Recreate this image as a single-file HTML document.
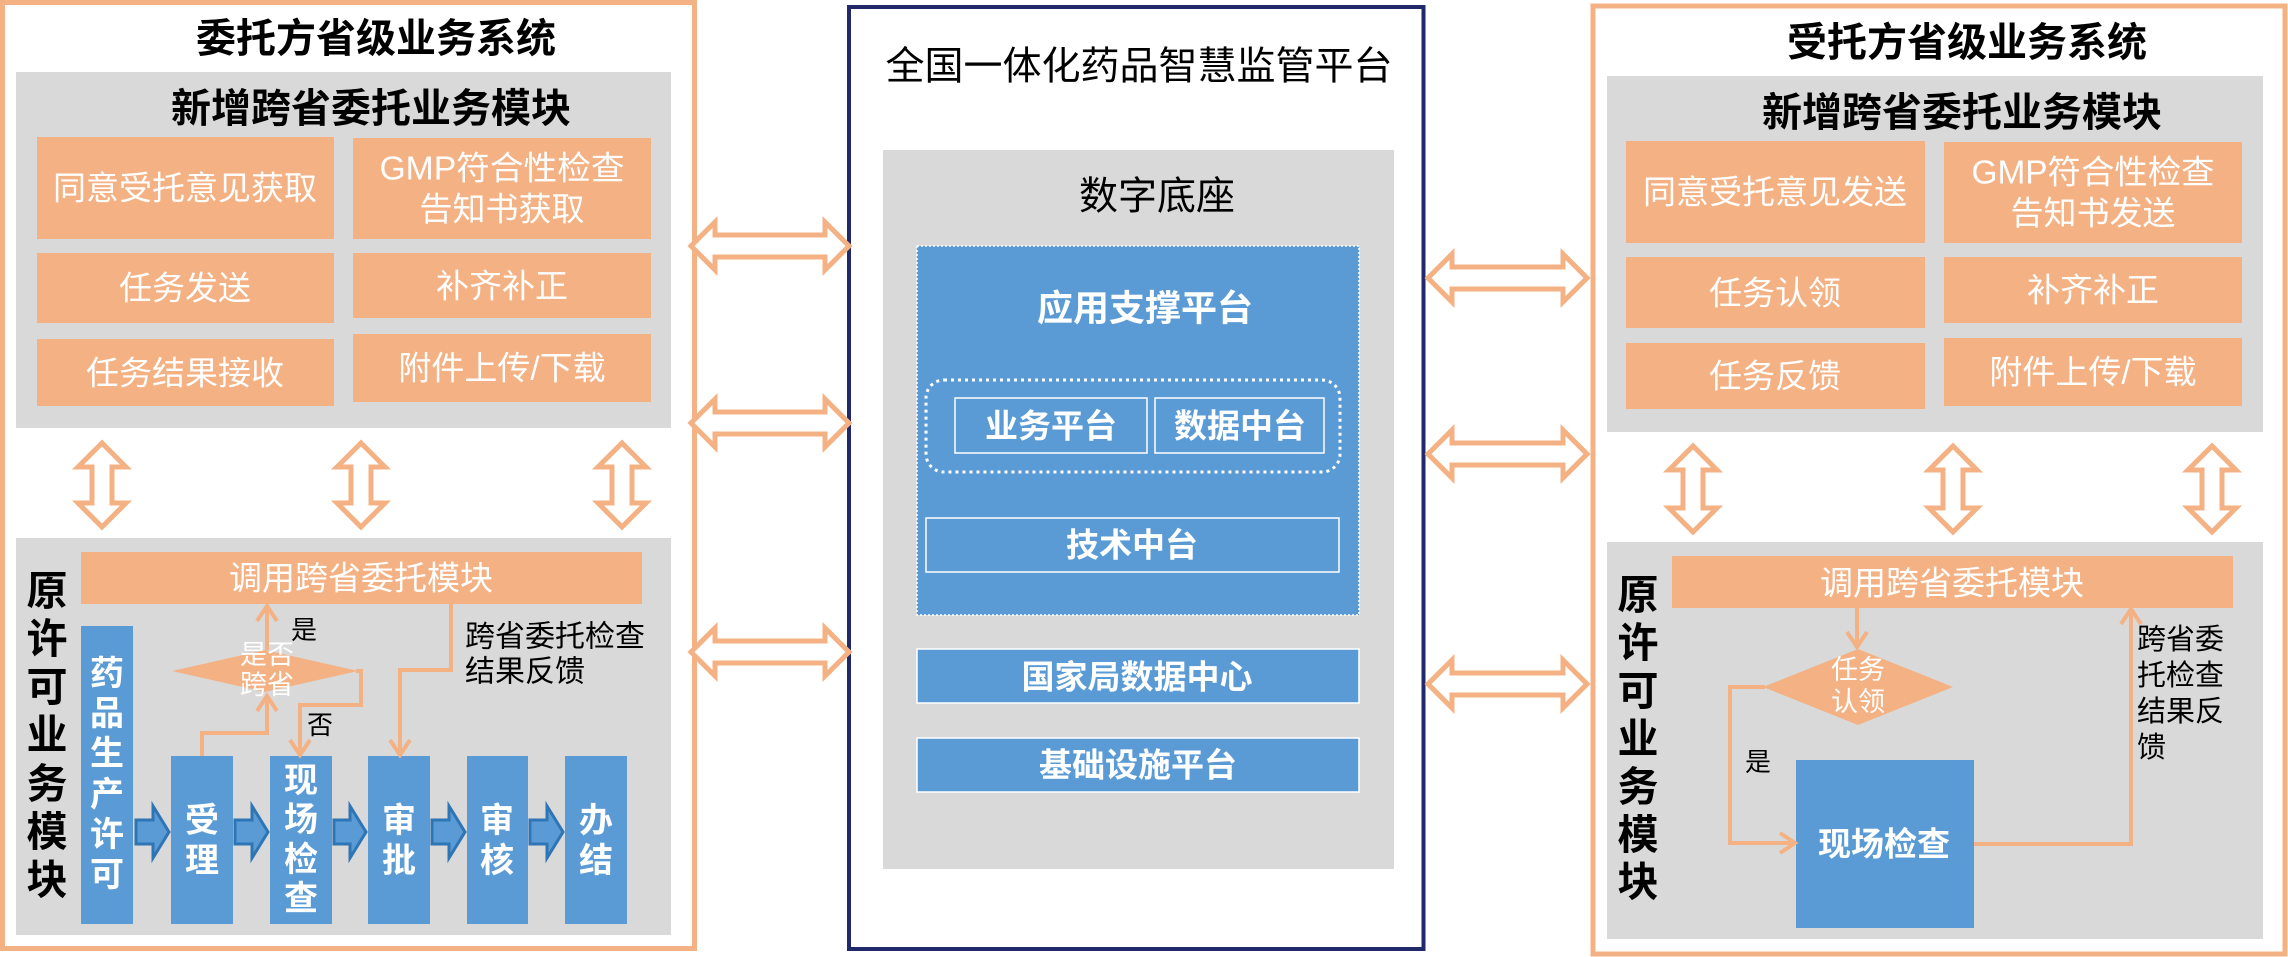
<!DOCTYPE html>
<html>
<head>
<meta charset="utf-8">
<style>
html,body{margin:0;padding:0;background:#fff;}
svg{display:block;}
text{font-family:"Liberation Sans","Noto Sans CJK SC","WenQuanYi Zen Hei",sans-serif;}
</style>
</head>
<body>
<svg width="2288" height="957" viewBox="0 0 2288 957" xmlns="http://www.w3.org/2000/svg">
<rect x="0" y="0" width="2288" height="957" fill="#fff"/>

<!-- ================= LEFT BOX ================= -->
<rect x="2.5" y="2.5" width="692" height="946" fill="#fff" stroke="#F4B183" stroke-width="5"/>
<text x="376" y="39" font-size="40" font-weight="bold" fill="#000" text-anchor="middle" dominant-baseline="central">委托方省级业务系统</text>

<rect x="16" y="72" width="655" height="356" fill="#D9D9D9"/>
<text x="371" y="109" font-size="40" font-weight="bold" fill="#000" text-anchor="middle" dominant-baseline="central">新增跨省委托业务模块</text>

<g fill="#F4B183">
<rect x="37" y="137" width="297" height="102"/>
<rect x="353" y="138" width="298" height="101"/>
<rect x="37" y="253" width="297" height="70"/>
<rect x="353" y="253" width="298" height="65"/>
<rect x="37" y="339" width="297" height="67"/>
<rect x="353" y="334" width="298" height="68"/>
</g>
<g fill="#fff" font-size="33" text-anchor="middle" dominant-baseline="central">
<text x="185" y="188">同意受托意见获取</text>
<text x="502" y="168" textLength="245" lengthAdjust="spacingAndGlyphs">GMP符合性检查</text>
<text x="502" y="209">告知书获取</text>
<text x="185" y="288">任务发送</text>
<text x="502" y="286">补齐补正</text>
<text x="185" y="373">任务结果接收</text>
<text x="502" y="368">附件上传/下载</text>
</g>

<!-- vertical double arrows left -->
<g fill="#fff" stroke="#F4B183" stroke-width="5" stroke-linejoin="miter">
<polygon points="102,443 126,467 112,467 112,503 126,503 102,527 78,503 92,503 92,467 78,467"/>
<polygon points="361,443 385,467 371,467 371,503 385,503 361,527 337,503 351,503 351,467 337,467"/>
<polygon points="622,443 646,467 632,467 632,503 646,503 622,527 598,503 612,503 612,467 598,467"/>
</g>

<rect x="16" y="538" width="655" height="397" fill="#D9D9D9"/>
<rect x="81" y="552" width="561" height="52" fill="#F4B183"/>
<text x="361" y="578" font-size="33" fill="#fff" text-anchor="middle" dominant-baseline="central">调用跨省委托模块</text>

<!-- vertical title left -->
<text font-size="41" font-weight="bold" fill="#000" text-anchor="middle" dominant-baseline="central">
<tspan x="47" y="591">原</tspan><tspan x="47" y="639">许</tspan><tspan x="47" y="687">可</tspan><tspan x="47" y="735">业</tspan><tspan x="47" y="784">务</tspan><tspan x="47" y="832">模</tspan><tspan x="47" y="880">块</tspan>
</text>

<!-- blue process boxes -->
<g fill="#5B9BD5">
<rect x="81" y="626" width="52" height="298"/>
<rect x="171" y="756" width="62" height="168"/>
<rect x="270" y="756" width="62" height="168"/>
<rect x="368" y="756" width="62" height="168"/>
<rect x="467" y="756" width="61" height="168"/>
<rect x="565" y="756" width="62" height="168"/>
</g>
<g fill="#fff" font-size="34" font-weight="bold" text-anchor="middle" dominant-baseline="central">
<text><tspan x="107" y="674">药</tspan><tspan x="107" y="714">品</tspan><tspan x="107" y="754">生</tspan><tspan x="107" y="795">产</tspan><tspan x="107" y="835">许</tspan><tspan x="107" y="875">可</tspan></text>
<text><tspan x="202" y="821">受</tspan><tspan x="202" y="861">理</tspan></text>
<text><tspan x="301" y="781">现</tspan><tspan x="301" y="820">场</tspan><tspan x="301" y="860">检</tspan><tspan x="301" y="899">查</tspan></text>
<text><tspan x="399" y="821">审</tspan><tspan x="399" y="861">批</tspan></text>
<text><tspan x="497" y="821">审</tspan><tspan x="497" y="861">核</tspan></text>
<text><tspan x="596" y="821">办</tspan><tspan x="596" y="861">结</tspan></text>
</g>

<!-- block arrows -->
<g fill="#5B9BD5" stroke="#2E75B6" stroke-width="3" stroke-linejoin="miter">
<polygon points="136,820 153,820 153,806 169,832 153,858 153,844 136,844"/>
<polygon points="235,820 252,820 252,806 268,832 252,858 252,844 235,844"/>
<polygon points="334,820 350,820 350,806 366,832 350,858 350,844 334,844"/>
<polygon points="432,820 449,820 449,806 465,832 449,858 449,844 432,844"/>
<polygon points="530,820 547,820 547,806 563,832 547,858 547,844 530,844"/>
</g>

<!-- diamond left -->
<polygon points="172,671 265,650 358,671 265,692" fill="#F4B183"/>
<text font-size="27" fill="#fff" text-anchor="middle" dominant-baseline="central"><tspan x="267" y="655">是否</tspan><tspan x="267" y="685">跨省</tspan></text>

<!-- connectors left -->
<g fill="none" stroke="#F4B183" stroke-width="4" stroke-linejoin="miter">
<path d="M202 756 V733 H267 V697"/>
<path d="M257 711 L267 696 L277 711"/>
<path d="M267 650 V607"/>
<path d="M257 621 L267 606 L277 621"/>
<path d="M356 671 H361 V705 H300 V754"/>
<path d="M290 740 L300 755 L310 740"/>
<path d="M451 604 V670 H400 V754"/>
<path d="M390 740 L400 755 L410 740"/>
</g>
<g fill="#000" font-size="26" text-anchor="middle" dominant-baseline="central">
<text x="304" y="630">是</text>
<text x="320" y="725">否</text>
</g>
<g fill="#000" font-size="30" dominant-baseline="central">
<text x="465" y="637">跨省委托检查</text>
<text x="465" y="672">结果反馈</text>
</g>

<!-- ================= CENTER BOX ================= -->
<rect x="849" y="7" width="574.5" height="942" fill="#fff" stroke="#21296B" stroke-width="4"/>
<text x="1139" y="67" font-size="39" fill="#000" text-anchor="middle" dominant-baseline="central">全国一体化药品智慧监管平台</text>
<rect x="883" y="150" width="511" height="719" fill="#D9D9D9"/>
<text x="1157" y="197" font-size="39" fill="#000" text-anchor="middle" dominant-baseline="central">数字底座</text>

<rect x="917" y="246" width="442" height="369" fill="#5B9BD5" stroke="#fff" stroke-width="1.5" stroke-dasharray="2 2"/>
<text x="1145" y="308" font-size="36" font-weight="bold" fill="#fff" text-anchor="middle" dominant-baseline="central">应用支撑平台</text>
<rect x="926" y="380" width="414" height="92" rx="18" ry="18" fill="none" stroke="#fff" stroke-width="3" stroke-dasharray="3 4"/>
<rect x="955" y="398" width="192" height="55" fill="none" stroke="#fff" stroke-width="1.5"/>
<rect x="1155" y="398" width="169" height="55" fill="none" stroke="#fff" stroke-width="1.5"/>
<rect x="926" y="518" width="413" height="54" fill="none" stroke="#fff" stroke-width="1.5"/>
<g fill="#fff" font-size="33" font-weight="bold" text-anchor="middle" dominant-baseline="central">
<text x="1051" y="426">业务平台</text>
<text x="1240" y="426">数据中台</text>
<text x="1132" y="545">技术中台</text>
</g>
<rect x="917" y="649" width="442" height="54" fill="#5B9BD5" stroke="#fff" stroke-width="1.5"/>
<rect x="917" y="738" width="442" height="54" fill="#5B9BD5" stroke="#fff" stroke-width="1.5"/>
<g fill="#fff" font-size="33" font-weight="bold" text-anchor="middle" dominant-baseline="central">
<text x="1137" y="677">国家局数据中心</text>
<text x="1138" y="765">基础设施平台</text>
</g>

<!-- horizontal double arrows -->
<g fill="#fff" stroke="#F4B183" stroke-width="5" stroke-linejoin="miter">
<polygon points="691,246 715,222 715,235 825,235 825,222 849,246 825,270 825,257 715,257 715,270"/>
<polygon points="691,423 715,399 715,412 825,412 825,399 849,423 825,447 825,434 715,434 715,447"/>
<polygon points="691,652 715,628 715,641 825,641 825,628 849,652 825,676 825,663 715,663 715,676"/>
<polygon points="1428,278 1452,254 1452,267 1563,267 1563,254 1587,278 1563,302 1563,289 1452,289 1452,302"/>
<polygon points="1428,454 1452,430 1452,443 1563,443 1563,430 1587,454 1563,478 1563,465 1452,465 1452,478"/>
<polygon points="1428,684 1452,660 1452,673 1563,673 1563,660 1587,684 1563,708 1563,695 1452,695 1452,708"/>
</g>

<!-- ================= RIGHT BOX ================= -->
<rect x="1593" y="6" width="692" height="948" fill="#fff" stroke="#F4B183" stroke-width="5"/>
<text x="1967" y="43" font-size="40" font-weight="bold" fill="#000" text-anchor="middle" dominant-baseline="central">受托方省级业务系统</text>
<rect x="1607" y="76" width="656" height="356" fill="#D9D9D9"/>
<text x="1962" y="113" font-size="40" font-weight="bold" fill="#000" text-anchor="middle" dominant-baseline="central">新增跨省委托业务模块</text>

<g fill="#F4B183">
<rect x="1626" y="141" width="299" height="102"/>
<rect x="1944" y="142" width="298" height="101"/>
<rect x="1626" y="257" width="299" height="71"/>
<rect x="1944" y="257" width="298" height="66"/>
<rect x="1626" y="343" width="299" height="66"/>
<rect x="1944" y="338" width="298" height="68"/>
</g>
<g fill="#fff" font-size="33" text-anchor="middle" dominant-baseline="central">
<text x="1775" y="192">同意受托意见发送</text>
<text x="2093" y="172" textLength="243" lengthAdjust="spacingAndGlyphs">GMP符合性检查</text>
<text x="2093" y="213">告知书发送</text>
<text x="1775" y="293">任务认领</text>
<text x="2093" y="290">补齐补正</text>
<text x="1775" y="376">任务反馈</text>
<text x="2093" y="372">附件上传/下载</text>
</g>

<g fill="#fff" stroke="#F4B183" stroke-width="5" stroke-linejoin="miter">
<polygon points="1693,446 1717,470 1703,470 1703,508 1717,508 1693,532 1669,508 1683,508 1683,470 1669,470"/>
<polygon points="1953,446 1977,470 1963,470 1963,508 1977,508 1953,532 1929,508 1943,508 1943,470 1929,470"/>
<polygon points="2212,446 2236,470 2222,470 2222,508 2236,508 2212,532 2188,508 2202,508 2202,470 2188,470"/>
</g>

<rect x="1607" y="542" width="656" height="397" fill="#D9D9D9"/>
<rect x="1672" y="556" width="561" height="52" fill="#F4B183"/>
<text x="1952" y="583" font-size="33" fill="#fff" text-anchor="middle" dominant-baseline="central">调用跨省委托模块</text>

<text font-size="41" font-weight="bold" fill="#000" text-anchor="middle" dominant-baseline="central">
<tspan x="1638" y="595">原</tspan><tspan x="1638" y="643">许</tspan><tspan x="1638" y="691">可</tspan><tspan x="1638" y="739">业</tspan><tspan x="1638" y="787">务</tspan><tspan x="1638" y="835">模</tspan><tspan x="1638" y="882">块</tspan>
</text>

<polygon points="1763,687 1858,649 1953,687 1858,725" fill="#F4B183"/>
<text font-size="27" fill="#fff" text-anchor="middle" dominant-baseline="central"><tspan x="1858" y="670">任务</tspan><tspan x="1858" y="702">认领</tspan></text>

<rect x="1796" y="760" width="178" height="168" fill="#5B9BD5"/>
<text x="1884" y="844" font-size="33" font-weight="bold" fill="#fff" text-anchor="middle" dominant-baseline="central">现场检查</text>

<g fill="none" stroke="#F4B183" stroke-width="4" stroke-linejoin="miter">
<path d="M1857 608 V646"/>
<path d="M1847 632 L1857 647 L1867 632"/>
<path d="M1765 687 H1730 V843 H1794"/>
<path d="M1780 833 L1795 843 L1780 853"/>
<path d="M1974 844 H2131 V610"/>
<path d="M2121 624 L2131 609 L2141 624"/>
</g>
<text x="1758" y="762" font-size="26" fill="#000" text-anchor="middle" dominant-baseline="central">是</text>
<g fill="#000" font-size="29" dominant-baseline="central">
<text x="2137" y="640">跨省委</text>
<text x="2137" y="676">托检查</text>
<text x="2137" y="712">结果反</text>
<text x="2137" y="748">馈</text>
</g>
</svg>
</body>
</html>
